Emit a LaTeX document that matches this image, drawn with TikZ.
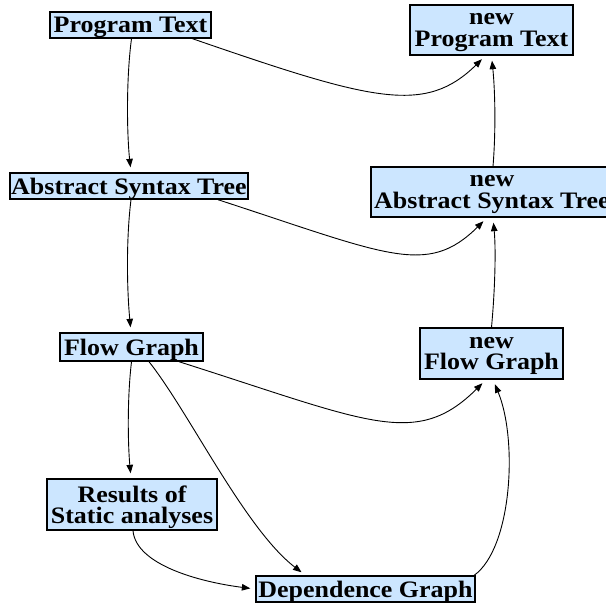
\documentclass[tikz,border=0pt]{standalone}
\usepackage{fontspec}
\setmainfont{Liberation Serif}[FakeStretch=1.1]
\usetikzlibrary{arrows.meta}
\definecolor{boxfill}{RGB}{204,230,255}
\begin{document}
\begin{tikzpicture}[x=1pt,y=-1pt,
  stage/.style={draw=black,fill=boxfill,line width=1.4pt,inner sep=0pt,
    align=center,text depth=0pt,font=\fontsize{23.6}{21.5}\selectfont\bfseries},
  flow/.style={line width=0.9pt,shorten >=5pt,
    -{Triangle[length=8.5pt,width=6.5pt]}}]
\useasboundingbox (0,0) rectangle (606,603);

% original program representations (left column)
\node[stage,minimum width=161pt,minimum height=26pt] (pt)  at (130.5,25)  {Program Text};
\node[stage,minimum width=238pt,minimum height=26pt] (ast) at (129,186)   {Abstract Syntax Tree};
\node[stage,minimum width=143pt,minimum height=28pt] (fg)  at (131.5,347) {Flow Graph};
\node[stage,minimum width=170pt,minimum height=51pt] (res) at (132,504.5) {Results of\\Static analyses};
\node[stage,minimum width=219pt,minimum height=26pt] (dg)  at (365.5,589) {Dependence Graph};

% transformed representations (right column)
\node[stage,minimum width=163pt,minimum height=50pt] (npt)  at (491.5,30)    {new\\Program Text};
\node[stage,minimum width=242pt,minimum height=50pt] (nast) at (492,192)     {new\\Abstract Syntax Tree};
\node[stage,minimum width=143pt,minimum height=51pt] (nfg)  at (491.5,353.5) {new\\Flow Graph};

% analysis chain
\draw[flow] ([xshift=1pt]pt.south) .. controls (126,80) and (127,135) .. ([xshift=2pt]ast.north);
\draw[flow] ([xshift=2pt]ast.south) .. controls (126,240) and (127,290) .. ([xshift=-0.5pt]fg.north);
\draw[flow] (fg.south) .. controls (127,400) and (128,445) .. ([xshift=-1pt]res.north);
\draw[flow] ([xshift=17.5pt]fg.south) .. controls (189,412) and (245,529) .. ([xshift=-60pt]dg.north);
\draw[flow] ([xshift=1pt]res.south) .. controls (136,565) and (200,582) .. (dg.west);

% regeneration chain
\draw[flow] ([xshift=-1.5pt]dg.north east) .. controls (512,548) and (518,440) .. ([xshift=1.5pt]nfg.south);
\draw[flow] (nfg.north) .. controls (495,290) and (496,250) .. ([xshift=1pt]nast.south);
\draw[flow] ([xshift=1pt]nast.north) .. controls (496,130) and (495,90) .. (npt.south);

% carried-over information
\draw[flow] ([xshift=62pt]pt.south) .. controls (373,101) and (425,115) .. ([xshift=-6pt]npt.south);
\draw[flow] ([xshift=89pt]ast.south) .. controls (388,255) and (427,277) .. ([xshift=-5pt]nast.south);
\draw[flow] ([xshift=47.5pt]fg.south) .. controls (369,422) and (416,449) .. ([xshift=-5.5pt]nfg.south);
\end{tikzpicture}
\end{document}
